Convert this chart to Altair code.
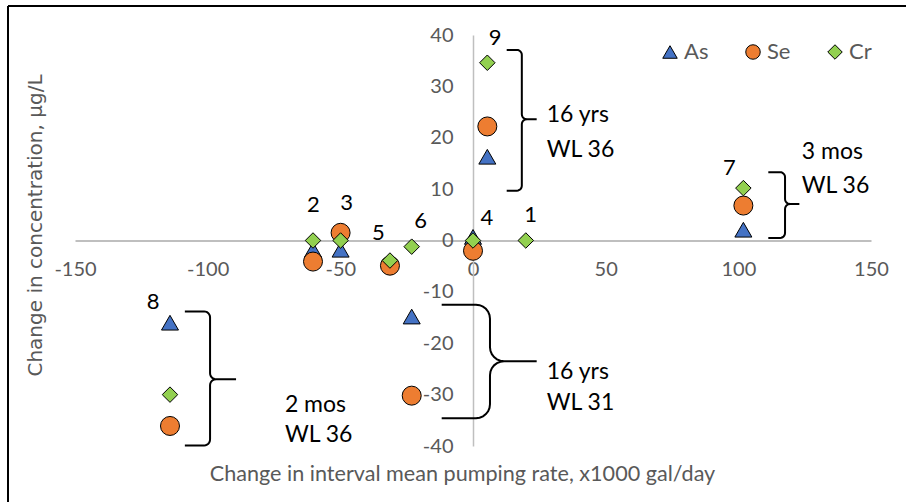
import math
import altair as alt
import pandas as pd

# ---------------- data ----------------
elements = ["As", "Se", "Cr"]

as_x = [-114.2, -60.3, -49.9, 0.0, 5.4, 101.9, -23.1]
as_y = [-16.0, -1.8, -1.8, 0.7, 16.3, 2.1, -14.8]

se_x = [-114.2, -60.3, -49.9, -31.3, 0.0, 5.4, 101.9, -23.1]
se_y = [-36.1, -4.1, 1.5, -4.9, -2.0, 22.2, 6.8, -30.2]

cr_x = [-114.2, -60.3, -49.9, -31.3, -23.1, 0.0, 19.9, 5.4, 101.9]
cr_y = [-30.0, 0.0, 0.0, -3.9, -1.2, 0.0, 0.0, 34.6, 10.2]

site_labels = ["1", "2", "3", "4", "5", "6", "7", "8", "9"]
site_label_x = [21.7, -60.2, -47.6, 5.2, -35.7, -19.7, 96.6, -120.6, 8.3]
site_label_y = [5.0, 6.9, 7.3, 4.4, 1.4, 3.7, 14.1, -11.9, 39.4]

note_text = ["16 yrs", "WL 36", "3 mos", "WL 36", "16 yrs", "WL 31", "2 mos", "WL 36"]
note_x = [27.8, 27.8, 123.9, 123.9, 27.8, 27.8, -70.9, -70.9]
note_y = [24.5, 17.6, 17.3, 10.7, -25.5, -31.6, -32.0, -37.8]

# brace annotations (data units)
br_open = [12.7, 111.3, -11.8, -108.6]
br_spine = [18.4, 117.6, 6.4, -99.1]
br_tip = [24.0, 123.0, 24.0, -89.3]
br_top = [37.1, 13.3, -12.5, -13.8]
br_bot = [9.7, 0.5, -34.6, -39.9]
br_mid = [23.6, 7.1, -23.5, -27.0]
br_radius = [5, 5, 14, 6]  # corner radius in pixels (style)

x_ticks = [-150, -100, -50, 0, 50, 100, 150]
y_ticks = [-40, -30, -20, -10, 0, 10, 20, 30, 40]

# ---------------- layout ----------------
W, H = 796, 411
PAD = {"left": 75, "top": 35, "right": 35, "bottom": 56}
PX_X = W / 300.0
PX_Y = H / 80.0
FONT = "Lato"
GRAY = "#595959"

fills = ["#4472C4", "#ED7D31", "#92D050"]
shapes = ["triangle-up", "circle", "diamond"]
sizes = [289, 361, 240]

series = {
    "As": pd.DataFrame({"x": as_x, "y": as_y, "el": "As"}),
    "Se": pd.DataFrame({"x": se_x, "y": se_y, "el": "Se"}),
    "Cr": pd.DataFrame({"x": cr_x, "y": cr_y, "el": "Cr"}),
}

labels_df = pd.DataFrame({"x": site_label_x, "y": site_label_y, "t": site_labels})
notes_df = pd.DataFrame({"x": note_x, "y": note_y, "t": note_text})


def brace(i):
    xo, xs_, xt = br_open[i], br_spine[i], br_tip[i]
    yt, yb, ym = br_top[i], br_bot[i], br_mid[i]
    rx = br_radius[i] / PX_X
    ry = br_radius[i] / PX_Y
    out = [(xo, yt)]

    def arc(cx, cy, a0, a1, n=6):
        res = []
        for k in range(n + 1):
            a = math.radians(a0 + (a1 - a0) * k / n)
            res.append((cx + rx * math.cos(a), cy + ry * math.sin(a)))
        return res

    out += arc(xs_ - rx, yt - ry, 90, 0)
    out += arc(xs_ + rx, ym + ry, 180, 270)
    out.append((xt, ym))
    out += arc(xs_ + rx, ym - ry, 90, 180)
    out += arc(xs_ - rx, yb + ry, 0, -90)
    out.append((xo, yb))
    return out


rows = []
for i in range(len(br_open)):
    for j, (px, py) in enumerate(brace(i)):
        rows.append({"b": i, "o": j, "x": px, "y": py})
br_df = pd.DataFrame(rows)

xs = alt.Scale(domain=[-150, 150], nice=False, zero=False)
ys = alt.Scale(domain=[-40, 40], nice=False, zero=False)

legend = alt.Legend(
    title=None,
    orient="none",
    legendX=584,
    legendY=6,
    direction="horizontal",
    symbolSize=210,
    symbolStrokeWidth=1,
    symbolOpacity=1,
    labelFont=FONT,
    labelFontSize=22,
    labelColor=GRAY,
    labelOffset=3,
    columnPadding=33,
)

x_axis = alt.Axis(
    values=x_ticks,
    orient="bottom",
    offset=-(H / 2),
    grid=False,
    ticks=False,
    domainColor="#BFBFBF",
    domainWidth=2,
    labelFont=FONT,
    labelFontSize=20,
    labelColor=GRAY,
    labelBaseline="middle",
    labelPadding=29,
    labelFlush=False,
    labelOverlap=False,
    labelExpr="'' + datum.value",
    title="Change in interval mean pumping rate, x1000 gal/day",
    titleFont=FONT,
    titleFontSize=21.6,
    titleFontWeight="normal",
    titleColor=GRAY,
    titleX=462 - PAD["left"],
    titleY=474 - (PAD["top"] + H / 2),
    titleAlign="center",
    titleBaseline="middle",
)

y_axis = alt.Axis(
    values=y_ticks,
    orient="left",
    offset=-(W / 2),
    grid=False,
    ticks=False,
    domainColor="#BFBFBF",
    domainWidth=1.5,
    labelFont=FONT,
    labelFontSize=20,
    labelColor=GRAY,
    labelPadding=20,
    labelFlush=False,
    labelOverlap=False,
    labelExpr="'' + datum.value",
    title="Change in concentration, µg/L",
    titleFont="DejaVu Sans",
    titleFontSize=20,
    titleFontWeight="normal",
    titleColor=GRAY,
    titleAngle=270,
    titleX=35 - (PAD["left"] + W / 2),
    titleY=225 - PAD["top"],
    titleAlign="center",
    titleBaseline="middle",
)

X = alt.X("x:Q", scale=xs, axis=x_axis)
Y = alt.Y("y:Q", scale=ys, axis=y_axis)

braces = alt.Chart(br_df).mark_line(
    color="black", strokeWidth=2, interpolate="linear"
).encode(x=X, y=Y, detail="b:N", order="o:Q")

point_layers = []
for el, sz in zip(elements, sizes):
    point_layers.append(
        alt.Chart(series[el]).mark_point(
            filled=True, strokeWidth=1, opacity=1, size=sz
        ).encode(
            x=X,
            y=Y,
            fill=alt.Fill("el:N", scale=alt.Scale(domain=elements, range=fills),
                          legend=legend, sort=elements),
            shape=alt.Shape("el:N", scale=alt.Scale(domain=elements, range=shapes),
                            legend=legend, sort=elements),
            stroke=alt.Stroke("el:N",
                              scale=alt.Scale(domain=elements,
                                              range=["black", "black", "black"]),
                              legend=legend, sort=elements),
        )
    )

site_text = alt.Chart(labels_df).mark_text(
    font=FONT, fontSize=22, color="black", align="center", baseline="middle"
).encode(x=X, y=Y, text="t:N")

note_marks = alt.Chart(notes_df).mark_text(
    font=FONT, fontSize=23, color="black", align="left", baseline="middle"
).encode(x=X, y=Y, text="t:N")

frame_left = alt.Chart(pd.DataFrame({"k": [0]})).mark_rule(
    color="black", strokeWidth=2
).encode(
    x=alt.value(8 - PAD["left"]),
    y=alt.value(6 - PAD["top"]),
    y2=alt.value(502 - PAD["top"] + 5),
)
frame_top = alt.Chart(pd.DataFrame({"k": [0]})).mark_rule(
    color="black", strokeWidth=2
).encode(
    x=alt.value(8 - PAD["left"]),
    x2=alt.value(906 - PAD["left"] + 5),
    y=alt.value(6 - PAD["top"]),
)

chart = (
    alt.layer(braces, *point_layers, site_text, note_marks, frame_left, frame_top)
    .properties(
        width=W,
        height=H,
        padding=PAD,
        autosize=alt.AutoSizeParams(type="none"),
        background="white",
    )
    .configure_view(stroke=None)
)

chart.save("out.html", embed_options={"renderer": "svg", "actions": False})
